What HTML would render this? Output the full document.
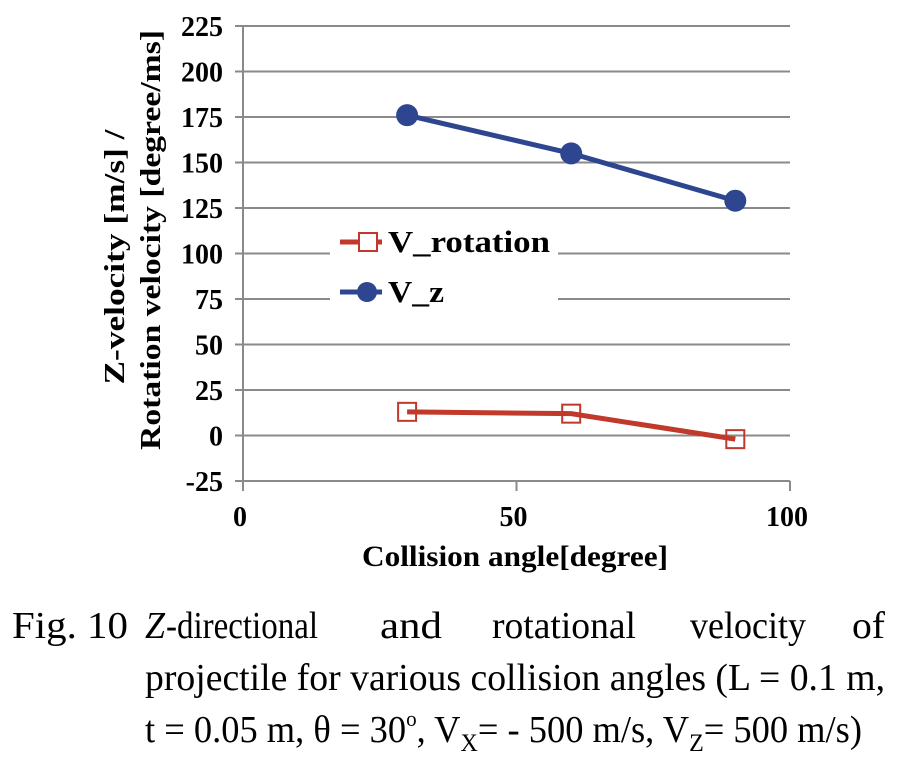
<!DOCTYPE html>
<html><head><meta charset="utf-8"><style>
html,body{margin:0;padding:0;background:#fff;}
svg{display:block;}
svg text{font-family:"Liberation Serif","Times New Roman",serif;}
</style></head><body>
<svg id="chart" width="900" height="760" xmlns="http://www.w3.org/2000/svg">
<g id="grid"></g>
<g id="yticks" font-weight="bold" font-size="28" text-anchor="end"></g>
<g id="xticks" font-weight="bold" font-size="28" text-anchor="middle"></g>
<g id="series"></g>
<g>
  <rect x="330" y="224" width="228" height="86" fill="#fff"/>
  <g>
    <line x1="340" y1="242" x2="382" y2="242" stroke="#c0392b" stroke-width="5"/>
    <rect x="359" y="233" width="18" height="18" fill="#fff" stroke="#c0392b" stroke-width="2"/>
    <text x="388" y="252" font-weight="bold" font-size="31" textLength="162" lengthAdjust="spacingAndGlyphs">V_rotation</text>
  </g>
  <g>
    <line x1="340" y1="292" x2="382" y2="292" stroke="#2e4690" stroke-width="5"/>
    <circle cx="367" cy="292" r="10" fill="#2e4690"/>
    <text x="388" y="302" font-weight="bold" font-size="31" textLength="56" lengthAdjust="spacingAndGlyphs">V_z</text>
  </g>
</g>
<text font-weight="bold" font-size="28" text-anchor="middle" textLength="255" lengthAdjust="spacingAndGlyphs" transform="translate(124,257) rotate(-90)">Z-velocity [m/s] /</text>
<text font-weight="bold" font-size="28" text-anchor="middle" textLength="420" lengthAdjust="spacingAndGlyphs" transform="translate(160,240) rotate(-90)">Rotation velocity [degree/ms]</text>
<text font-weight="bold" font-size="30" text-anchor="middle" textLength="306" lengthAdjust="spacingAndGlyphs" x="515" y="566">Collision angle[degree]</text>
<g font-size="38">
  <text x="12" y="638" textLength="116" lengthAdjust="spacingAndGlyphs">Fig. 10</text>
  <text x="145" y="638" font-style="italic" textLength="20" lengthAdjust="spacingAndGlyphs">Z</text>
  <text x="166" y="638" textLength="152" lengthAdjust="spacingAndGlyphs">-directional</text>
  <text x="380" y="638" textLength="62" lengthAdjust="spacingAndGlyphs">and</text>
  <text x="492" y="638" textLength="144" lengthAdjust="spacingAndGlyphs">rotational</text>
  <text x="690" y="638" textLength="116" lengthAdjust="spacingAndGlyphs">velocity</text>
  <text x="852" y="638" textLength="33" lengthAdjust="spacingAndGlyphs">of</text>
  <text x="145" y="690" textLength="740" lengthAdjust="spacingAndGlyphs">projectile for various collision angles (L = 0.1 m,</text>
  <text x="145" y="742" textLength="717" lengthAdjust="spacingAndGlyphs">t = 0.05 m, θ = 30<tspan font-size="22" dy="-16">o</tspan><tspan dy="16">, V</tspan><tspan font-size="25" dy="9">X</tspan><tspan dy="-9">= - 500 m/s, V</tspan><tspan font-size="25" dy="9">Z</tspan><tspan dy="-9">= 500 m/s)</tspan></text>
</g>
</svg>
<script>
const categories = [30, 60, 90];
const vRotation = [13, 12, -2];
const vZ = [176, 155, 129];
const yTickLabels = ["-25","0","25","50","75","100","125","150","175","200","225"];
const xTickLabels = ["0","50","100"];

const NS = "http://www.w3.org/2000/svg";
const X0 = 243, X1 = 790, Y0 = 481, Y1 = 26;
const xMin = 0, xMax = 100, yMin = -25, yMax = 225;
function xs(v){ return X0 + (v - xMin) / (xMax - xMin) * (X1 - X0); }
function ys(v){ return Y0 - (v - yMin) / (yMax - yMin) * (Y0 - Y1); }
function mk(tag, attrs, parent){ const e = document.createElementNS(NS, tag); for (const k in attrs) e.setAttribute(k, attrs[k]); parent.appendChild(e); return e; }

const grid = document.getElementById('grid');
yTickLabels.forEach(t => {
  const v = +t;
  const g = mk('line', {x1: X0 - 8, x2: X1, y1: ys(v), y2: ys(v), stroke: '#8a8a8a', 'stroke-width': 2}, grid);
  
  
  const tx = mk('text', {x: X0 - 20, y: ys(v) + 10}, document.getElementById('yticks'));
  
  
  tx.textContent = t;
});
const ax = mk('line', {x1: X0, x2: X0, y1: Y1, y2: Y0 + 8, stroke: '#8a8a8a', 'stroke-width': 2}, grid);


xTickLabels.forEach(t => {
  const v = +t;
  const tk = mk('line', {x1: xs(v), x2: xs(v), y1: Y0, y2: Y0 + 10, stroke: '#8a8a8a', 'stroke-width': 2}, grid);
  
  
  const tx = mk('text', {x: xs(v) - 3, y: Y0 + 45}, document.getElementById('xticks'));
  
  
  tx.textContent = t;
});

const series = document.getElementById('series');
function pts(arr){ return arr.map((v,i) => xs(categories[i]) + ',' + ys(v)).join(' '); }
const lr = mk('polyline', {points: pts(vRotation), fill: 'none', stroke: '#c0392b', 'stroke-width': 5}, series);


vRotation.forEach((v,i) => {
  const r = mk('rect', {x: xs(categories[i]) - 9, y: ys(v) - 9, width: 18, height: 18, fill: 'none', stroke: '#c0392b', 'stroke-width': 2}, series);
  
  
});
const lz = mk('polyline', {points: pts(vZ), fill: 'none', stroke: '#2e4690', 'stroke-width': 5}, series);


vZ.forEach((v,i) => {
  const c = mk('circle', {cx: xs(categories[i]), cy: ys(v), r: 11, fill: '#2e4690'}, series);
  
  
});
</script>
</body></html>
